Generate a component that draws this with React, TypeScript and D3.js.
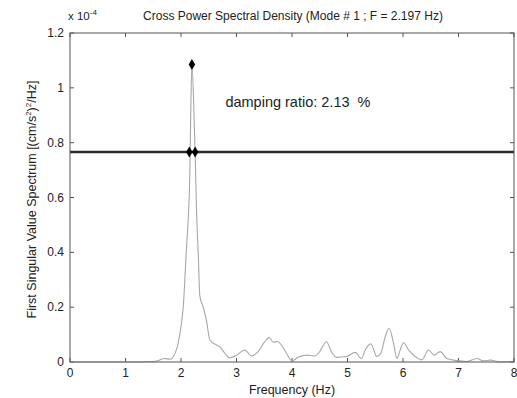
import React from "react";
import * as d3 from "d3";

const freq = [0, 0.5, 1.0, 1.5, 1.6, 1.7, 1.8, 1.9, 1.95, 2.0, 2.04, 2.1, 2.13, 2.16, 2.175, 2.197, 2.235, 2.26, 2.28, 2.31, 2.34, 2.4, 2.46, 2.52, 2.64, 2.7, 2.79, 2.88, 3.0, 3.15, 3.27, 3.39, 3.51, 3.59, 3.66, 3.74, 3.81, 3.9, 4.0, 4.11, 4.26, 4.41, 4.5, 4.62, 4.71, 4.8, 4.98, 5.14, 5.25, 5.32, 5.42, 5.53, 5.6, 5.68, 5.75, 5.83, 5.89, 5.95, 6.01, 6.1, 6.22, 6.34, 6.46, 6.56, 6.67, 6.79, 6.97, 7.15, 7.33, 7.45, 7.57, 7.75, 8.0];
const spectrum = [0, 0, 0, 0.002, 0.006, 0.013, 0.01, 0.035, 0.07, 0.13, 0.2, 0.42, 0.52, 0.7, 0.9, 1.085, 0.9, 0.72, 0.55, 0.4, 0.24, 0.2, 0.15, 0.08, 0.062, 0.055, 0.032, 0.015, 0.025, 0.044, 0.022, 0.038, 0.074, 0.09, 0.072, 0.075, 0.062, 0.032, 0.004, 0.017, 0.025, 0.022, 0.038, 0.074, 0.038, 0.017, 0.02, 0.035, 0.012, 0.044, 0.066, 0.02, 0.032, 0.092, 0.123, 0.068, 0.013, 0.044, 0.07, 0.044, 0.02, 0.008, 0.044, 0.025, 0.038, 0.013, 0.005, 0.002, 0.013, 0.004, 0.007, 0, 0.003];

const peakFreq = 2.197;
const peakValue = 1.085;
const halfPowerLevel = 0.766;
const halfPowerFreqs = [2.15, 2.255];
const dampingLabel = "damping ratio: 2.13  %";
const labelPos = [2.8, 0.93];

const xTicks = [0, 1, 2, 3, 4, 5, 6, 7, 8];
const yTicks = [0, 0.2, 0.4, 0.6, 0.8, 1.0, 1.2];

const W = 517, H = 398;
const m = { left: 70, right: 3, top: 33, bottom: 36 };

export default function App() {
  const x = d3.scaleLinear().domain([0, 8]).range([m.left, W - m.right]);
  const y = d3.scaleLinear().domain([0, 1.2]).range([H - m.bottom, m.top]);
  const pts = freq.map((f, i) => [f, spectrum[i]] as [number, number]);
  const line = d3.line<[number, number]>().x(d => x(d[0])).y(d => y(d[1])).curve(d3.curveMonotoneX);
  const font = "Liberation Sans, Arial, Helvetica, sans-serif";
  const txt = "#222";
  const axisCol = "#555";
  const diamond = d3.symbol().type(d3.symbolDiamond).size(36)() as string;
  const x0 = x(0), x1 = x(8), y0 = y(0), y1 = y(1.2);
  return (
    <svg width={W} height={H} style={{ position: "absolute", left: 0, top: 0, background: "#fff" }} fontFamily={font}>
      <rect x={0} y={0} width={W} height={H} fill="#fff" />
      {xTicks.map(t => (
        <g key={"x" + t}>
          <line x1={x(t)} x2={x(t)} y1={y0} y2={y0 - 4} stroke={axisCol} />
          <line x1={x(t)} x2={x(t)} y1={y1} y2={y1 + 4} stroke={axisCol} />
          <text x={x(t)} y={y0 + 15} textAnchor="middle" fontSize={12} fill={txt}>{t}</text>
        </g>
      ))}
      {yTicks.map(t => (
        <g key={"y" + t}>
          <line x1={x0} x2={x0 + 4} y1={y(t)} y2={y(t)} stroke={axisCol} />
          <line x1={x1} x2={x1 - 4} y1={y(t)} y2={y(t)} stroke={axisCol} />
          <text x={x0 - 6} y={y(t) + 4} textAnchor="end" fontSize={12} fill={txt}>{t === 0 ? "0" : t === 1 ? "1" : t.toFixed(1)}</text>
        </g>
      ))}
      <path d={line(pts) || ""} fill="none" stroke="#a8a8a8" strokeWidth={1.1} />
      <line x1={x0} x2={x1} y1={y(halfPowerLevel)} y2={y(halfPowerLevel)} stroke="#2a2a2a" strokeWidth={2.6} />
      {halfPowerFreqs.map(f => (
        <path key={f} d={diamond} transform={`translate(${x(f)},${y(halfPowerLevel)})`} fill="#000" />
      ))}
      <path d={diamond} transform={`translate(${x(peakFreq)},${y(peakValue)})`} fill="#000" />
      <text x={x(labelPos[0])} y={y(labelPos[1])} fontSize={14.5} fill={txt} style={{ whiteSpace: "pre" }}>{dampingLabel}</text>
      <rect x={x0} y={y1} width={x1 - x0} height={y0 - y1} fill="none" stroke={axisCol} strokeWidth={1} />
      <text x={x0 - 2} y={20} fontSize={11.5} fill={txt}>x 10<tspan dy={-5} fontSize={8}>-4</tspan></text>
      <text x={293} y={20} textAnchor="middle" fontSize={12} fill={txt}>Cross Power Spectral Density (Mode # 1 ; F = 2.197 Hz)</text>
      <text x={(x0 + x1) / 2} y={H - 4} textAnchor="middle" fontSize={12.5} fill={txt}>Frequency (Hz)</text>
      <text transform={`translate(36,${(y0 + y1) / 2 + 2}) rotate(-90)`} textAnchor="middle" fontSize={12.5} fill={txt}>
        First Singular Value Spectrum [(cm/s<tspan dy={-5} fontSize={8}>2</tspan><tspan dy={5}>)</tspan><tspan dy={-5} fontSize={8}>2</tspan><tspan dy={5}>/Hz]</tspan>
      </text>
    </svg>
  );
}
